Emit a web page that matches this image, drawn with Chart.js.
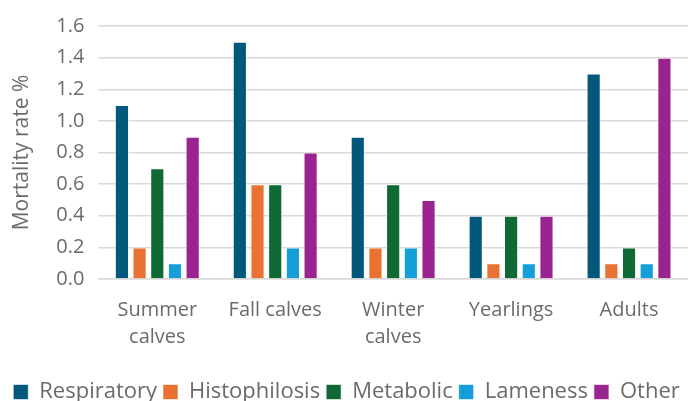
<!DOCTYPE html>
<html>
<head>
<meta charset="utf-8">
<script src="https://cdn.jsdelivr.net/npm/chart.js@4"></script>
<style>
  body { margin: 0; background: #fff; }
  #wrap { width: 688px; height: 401px; }
</style>
</head>
<body>
<div id="wrap"><canvas id="mortChart" width="688" height="401"></canvas></div>
<script>
// categories and series
const groups = [['Summer', 'calves'], 'Fall calves', ['Winter', 'calves'], 'Yearlings', 'Adults'];
const respiratory = [1.1, 1.5, 0.9, 0.4, 1.3];
const histophilosis = [0.2, 0.6, 0.2, 0.1, 0.1];
const metabolic = [0.7, 0.6, 0.6, 0.4, 0.2];
const lameness = [0.1, 0.2, 0.2, 0.1, 0.1];
const other = [0.9, 0.8, 0.5, 0.4, 1.4];

const fontName = '"Open Sans", "Noto Sans", sans-serif';
const grey = '#6b6b6b';

function series(label, data, color) {
  return {
    label: label,
    data: data,
    backgroundColor: color,
    borderColor: 'rgba(255,255,255,0.6)',
    borderWidth: 1,
    categoryPercentage: 0.75,
    barPercentage: 0.8
  };
}

var ctx = document.getElementById('mortChart').getContext('2d');
var mortChart = new Chart(ctx, {
  type: 'bar',
  data: {
    labels: groups,
    datasets: [
      series('Respiratory', respiratory, '#02587b'),
      series('Histophilosis', histophilosis, '#e97132'),
      series('Metabolic', metabolic, '#0e6934'),
      series('Lameness', lameness, '#159fd8'),
      series('Other', other, '#9a248f')
    ]
  },
  options: {
    responsive: false,
    animation: false,
    layout: { padding: { top: 5, right: 0, left: 5, bottom: -12 } },
    plugins: {
      legend: {
        position: 'bottom',
        labels: {
          color: grey,
          font: { family: fontName, size: 22 },
          boxWidth: 15,
          boxHeight: 15,
          padding: 6
        }
      },
      tooltip: { enabled: false }
    },
    scales: {
      x: {
        grid: { display: false },
        border: { color: '#d9d9d9', width: 1.5 },
        ticks: { color: grey, font: { family: fontName, size: 20, lineHeight: 1.35 }, maxRotation: 0, padding: 10 },
        afterFit: function(scale) { scale.height += 14; }
      },
      y: {
        min: 0,
        max: 1.6,
        grid: { color: '#d9d9d9', lineWidth: 1.5, drawTicks: false },
        border: { display: false },
        ticks: {
          stepSize: 0.2,
          color: grey,
          font: { family: fontName, size: 20 },
          padding: 14,
          callback: function(v) { return v.toFixed(1); }
        },
        title: {
          display: true,
          text: 'Mortality rate %',
          color: grey,
          font: { family: fontName, size: 21 },
          padding: { bottom: 8 }
        }
      }
    }
  }
});
</script>
</body>
</html>
